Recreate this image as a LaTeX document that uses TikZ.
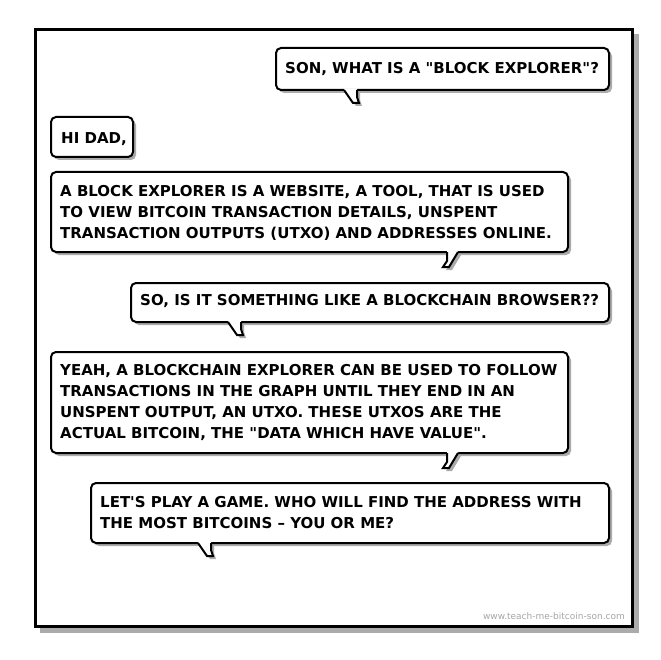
\documentclass[tikz,border=0pt]{standalone}
\usepackage{fontspec}
\newfontfamily\bubfont{DejaVu Sans}
\colorlet{shadowgray}{black!33}
\colorlet{markgray}{black!35}
\tikzset{
  bshadow/.style={fill=shadowgray, rounded corners=5pt},
  bbody/.style={fill=white, draw=black, line width=2pt, rounded corners=5pt},
  tailedge/.style={draw=black, line width=2pt, line join=miter},
  txt/.style={anchor=base west, inner sep=0pt, align=left,
    font=\bubfont\fontsize{15}{21}\selectfont\bfseries},
}
% x1 y1 x2 y2 a  (tail leaning right)
\newcommand\bubA[5]{%
  \fill[bshadow] (#1+3,#2+3) rectangle (#3+3,#4+3);
  \fill[shadowgray] (#5+3,#4+3) -- (#5+12,#4+16) -- (#5+18,#4+16) -- (#5+16,#4+10) -- (#5+16,#4+3) -- cycle;
  \path[bbody] (#1,#2) rectangle (#3,#4);
  \fill[white] (#5,#4-1.5) -- (#5,#4) -- (#5+9,#4+13) -- (#5+15,#4+13) -- (#5+13,#4+7) -- (#5+13,#4-1.5) -- cycle;
  \draw[tailedge] (#5,#4) -- (#5+9,#4+13) -- (#5+15,#4+13) -- (#5+13,#4+7) -- (#5+13,#4);
}
% x1 y1 x2 y2 a  (tail leaning left)
\newcommand\bubB[5]{%
  \fill[bshadow] (#1+3,#2+3) rectangle (#3+3,#4+3);
  \fill[shadowgray] (#5+3,#4+3) -- (#5+3,#4+12) -- (#5-1,#4+18) -- (#5+5,#4+18) -- (#5+14,#4+3) -- cycle;
  \path[bbody] (#1,#2) rectangle (#3,#4);
  \fill[white] (#5,#4-1.5) -- (#5,#4+9) -- (#5-4,#4+15) -- (#5+2,#4+15) -- (#5+11,#4) -- (#5+11,#4-1.5) -- cycle;
  \draw[tailedge] (#5,#4) -- (#5,#4+9) -- (#5-4,#4+15) -- (#5+2,#4+15) -- (#5+11,#4);
}
\begin{document}
\begin{tikzpicture}[x=1pt,y=-1pt]
\useasboundingbox (0,0) rectangle (660,660);
\fill[white] (0,0) rectangle (660,660);
% frame
\fill[shadowgray] (40,34) rectangle (639,633);
\draw[fill=white, line width=3pt] (35.5,29.5) rectangle (632.5,626.5);
\node[anchor=base east, inner sep=0pt, text=markgray, font=\bubfont\fontsize{9}{11}\selectfont] (mark) at (625,619) {www.teach-me-bitcoin-son.com};

% bubble 1
\bubA{276}{48}{609}{90}{344}
\node[txt] (t1) at (285,73.5) {SON, WHAT IS A "BLOCK EXPLORER"?};
% bubble 2
\path[bshadow] (54,120) rectangle (136,160);
\path[bbody] (51,117) rectangle (133,157);
\node[txt] (t2) at (61,143.5) {HI DAD,};
% bubble 3 (anchor at last baseline)
\bubB{51}{172}{568}{252}{447}
\node[txt] (t3) at (60,238) {A BLOCK EXPLORER IS A WEBSITE, A TOOL, THAT IS USED\\TO VIEW BITCOIN TRANSACTION DETAILS, UNSPENT\\TRANSACTION OUTPUTS (UTXO) AND ADDRESSES ONLINE.};
% bubble 4
\bubA{131}{283}{609}{322}{228}
\node[txt] (t4) at (140,305.5) {SO, IS IT SOMETHING LIKE A BLOCKCHAIN BROWSER??};
% bubble 5
\bubB{51}{352}{568}{453}{447}
\node[txt] (t5) at (60,438.5) {YEAH, A BLOCKCHAIN EXPLORER CAN BE USED TO FOLLOW\\TRANSACTIONS IN THE GRAPH UNTIL THEY END IN AN\\UNSPENT OUTPUT, AN UTXO. THESE UTXOS ARE THE\\ACTUAL BITCOIN, THE "DATA WHICH HAVE VALUE".};
% bubble 6
\bubA{91}{483}{609}{543}{198}
\node[txt] (t6) at (100,528.5) {LET'S PLAY A GAME. WHO WILL FIND THE ADDRESS WITH\\THE MOST BITCOINS – YOU OR ME?};
\end{tikzpicture}
\end{document}
